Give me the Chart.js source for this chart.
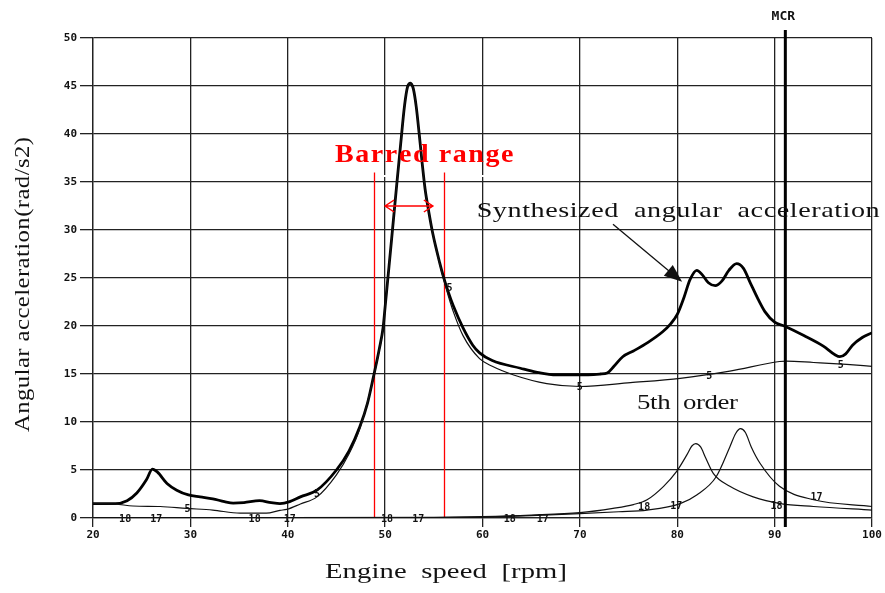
<!DOCTYPE html>
<html>
<head>
<meta charset="utf-8">
<style>
  body { margin: 0; background: #fff; }
  #wrap { width: 885px; height: 593px; }
</style>
</head>
<body>
<div id="wrap"><canvas id="accChart" width="885" height="593"></canvas></div>
<script src="https://cdn.jsdelivr.net/npm/chart.js@4.4.1/dist/chart.umd.min.js"></script>
<script>
// engine speed [rpm] / angular acceleration (rad/s2)
const synthX = [20, 22.3, 23.5, 24.5, 25.5, 26.1, 26.6, 27.6, 28.6, 29.8, 31, 32.3, 33.5, 34.4, 35.5, 37.1, 38.3, 39.2, 40.2, 41.3, 43, 45, 46.3, 47.4, 48.2, 48.8, 49.4, 49.8, 50.0, 50.4, 50.8, 51.2, 51.6, 52.0, 52.3, 52.6, 52.9, 53.2, 53.5, 53.8, 54.1, 54.5, 54.9, 55.6, 56.0, 56.5, 57.0, 58, 59, 59.7, 61, 63.9, 65.5, 67.6, 70, 72.1, 72.8, 73.5, 74.4, 75.5, 77, 78.5, 79.3, 80, 80.7, 81.3, 82, 82.6, 83.2, 83.9, 84.6, 85.3, 86.1, 86.8, 87.5, 88.3, 89, 90, 91, 93, 95, 96.2, 96.7, 97.3, 98, 99, 100];
const synthY = [1.5, 1.5, 1.8, 2.6, 4.0, 5.1, 4.8, 3.6, 2.9, 2.4, 2.2, 2.0, 1.7, 1.55, 1.6, 1.8, 1.6, 1.5, 1.7, 2.2, 2.9, 5.0, 7.0, 9.5, 12, 14.7, 17.6, 19.9, 22, 26.2, 30.5, 34.8, 39, 43, 44.9, 45.3, 44.7, 42.8, 40, 37, 34.3, 31.8, 29.6, 26.6, 25.1, 23.5, 22.1, 19.8, 18.0, 17.2, 16.4, 15.6, 15.2, 14.9, 14.9, 15.0, 15.1, 15.8, 16.8, 17.4, 18.3, 19.4, 20.2, 21.2, 23, 24.8, 25.8, 25.3, 24.5, 24.2, 24.7, 25.8, 26.5, 26.0, 24.5, 22.8, 21.5, 20.4, 20.0, 19.0, 17.9, 17.0, 16.8, 17.1, 18.0, 18.8, 19.3];

const order5X = [20, 22.3, 24.1, 26.9, 29.6, 32.3, 35.1, 37.8, 39.2, 39.9, 41.3, 43, 45, 46.3, 47.4, 48.8, 49.4, 49.8, 50.0, 50.4, 50.8, 51.2, 51.6, 52.0, 52.3, 52.6, 52.9, 53.2, 53.5, 53.8, 54.1, 54.5, 54.9, 55.6, 56.0, 56.5, 57, 58, 59.7, 61, 63.2, 66.6, 70, 75.2, 80.3, 85.4, 90.5, 91.2, 94, 97.4, 100];
const order5Y = [1.5, 1.45, 1.25, 1.2, 1.0, 0.83, 0.5, 0.5, 0.8, 0.9, 1.46, 2.2, 4.5, 6.7, 9.3, 14.6, 17.5, 19.8, 22, 26.2, 30.5, 34.8, 39, 43, 44.9, 45.3, 44.7, 42.8, 40, 37, 34.3, 31.8, 29.6, 26.5, 24.9, 23.1, 21.5, 19.0, 16.6, 15.8, 14.9, 14.0, 13.7, 14.1, 14.55, 15.3, 16.3, 16.35, 16.2, 16.0, 15.8];

const order18X = [20, 40, 55, 60, 65, 70, 73.4, 75.5, 76.9, 78.6, 79.9, 81, 81.5, 81.9, 82.4, 82.9, 83.7, 85.4, 87.8, 90.6, 94, 100];
const order18Y = [0.05, 0.05, 0.08, 0.15, 0.3, 0.55, 1.0, 1.4, 1.9, 3.3, 4.8, 6.6, 7.5, 7.75, 7.4, 6.3, 4.65, 3.3, 2.2, 1.5, 1.2, 0.83];

const order17X = [20, 40, 55, 60, 65, 70, 74, 76.9, 80.3, 82, 84, 85.4, 86.0, 86.5, 87.0, 87.6, 88.5, 90.5, 94, 100];
const order17Y = [0.02, 0.02, 0.05, 0.1, 0.25, 0.45, 0.65, 0.83, 1.5, 2.4, 4.3, 7.4, 8.8, 9.3, 8.9, 7.4, 5.7, 3.3, 1.9, 1.2];

const xTicks = [20, 30, 40, 50, 60, 70, 80, 90, 100];
const yTicks = [0, 5, 10, 15, 20, 25, 30, 35, 40, 45, 50];

// order labels written along the curves: [text, rpm, value]
const orderLabels = [
  ['18', 23.3, 0], ['17', 26.5, 0], ['5', 29.7, 1.0],
  ['18', 36.6, 0], ['17', 40.2, 0], ['5', 43.0, 2.6],
  ['18', 50.2, 0], ['17', 53.4, 0], ['5', 56.6, 24],
  ['18', 62.8, 0], ['17', 66.2, 0], ['5', 70.0, 13.75],
  ['18', 76.6, 1.25], ['17', 79.9, 1.35], ['5', 83.3, 14.9],
  ['18', 90.2, 1.35], ['17', 94.3, 2.2], ['5', 96.8, 16.0]
];

const barredFrom = 48.9, barredTo = 56.0;
const mcrSpeed = 91.1;

function pts(xs, ys) {
  return xs.map((x, i) => ({ x: x, y: ys[i] }));
}

// draw text stretched by sx, with the leftover width spread between chars
function fitText(ctx, text, x, y, width, sx) {
  ctx.save();
  ctx.translate(x, y);
  ctx.scale(sx, 1);
  const natural = ctx.measureText(text).width;
  const gap = text.length > 1 ? (width / sx - natural) / (text.length - 1) : 0;
  let cx = 0;
  for (const ch of text) {
    ctx.fillText(ch, cx, 0);
    cx += ctx.measureText(ch).width + gap;
  }
  ctx.restore();
}

const serif = '"Liberation Serif", "DejaVu Serif", serif';
const mono = '"DejaVu Sans Mono", "Liberation Mono", monospace';

const decorations = {
  id: 'decorations',
  beforeDatasetsDraw(chart) {
    const ctx = chart.ctx, xs = chart.scales.x, ys = chart.scales.y;
    ctx.save();
    // white edge of the text box over the grid
    ctx.strokeStyle = '#fff';
    ctx.lineWidth = 2;
    ctx.beginPath();
    ctx.moveTo(xs.getPixelForValue(43.1), 176);
    ctx.lineTo(xs.getPixelForValue(64.9), 176);
    ctx.stroke();
    // barred range lines
    ctx.strokeStyle = '#ff0000';
    ctx.lineWidth = 1.3;
    [barredFrom, barredTo].forEach(v => {
      const px = Math.round(xs.getPixelForValue(v)) + 0.5;
      ctx.beginPath();
      ctx.moveTo(px, ys.getPixelForValue(36.0));
      ctx.lineTo(px, ys.getPixelForValue(0));
      ctx.stroke();
    });
    ctx.restore();
  },
  afterDatasetsDraw(chart) {
    const ctx = chart.ctx, xs = chart.scales.x, ys = chart.scales.y;
    const area = chart.chartArea;
    ctx.save();

    // red double arrow
    const ay = ys.getPixelForValue(32.5);
    const a1 = xs.getPixelForValue(50.0), a2 = xs.getPixelForValue(54.9);
    ctx.strokeStyle = '#ff0000';
    ctx.lineWidth = 1.5;
    ctx.beginPath();
    ctx.moveTo(a1, ay); ctx.lineTo(a2, ay);
    ctx.moveTo(a1 + 9, ay - 6); ctx.lineTo(a1, ay); ctx.lineTo(a1 + 9, ay + 6);
    ctx.moveTo(a2 - 9, ay - 6); ctx.lineTo(a2, ay); ctx.lineTo(a2 - 9, ay + 6);
    ctx.stroke();

    // red title
    ctx.fillStyle = '#ff0000';
    ctx.font = 'bold 25px ' + serif;
    ctx.textBaseline = 'alphabetic';
    ctx.textAlign = 'left';
    fitText(ctx, 'Barred range', xs.getPixelForValue(44.85), ys.getPixelForValue(37.1), 178, 1.12);

    // MCR line
    const mx = xs.getPixelForValue(mcrSpeed);
    ctx.strokeStyle = '#000';
    ctx.lineWidth = 3;
    ctx.beginPath();
    ctx.moveTo(mx, area.top - 8);
    ctx.lineTo(mx, area.bottom + 9);
    ctx.stroke();
    ctx.fillStyle = '#111';
    ctx.font = 'bold 13px ' + mono;
    ctx.textAlign = 'center';
    ctx.textBaseline = 'middle';
    ctx.fillText('MCR', mx - 2, 17);

    // order labels on the curves
    ctx.font = 'bold 10px ' + mono;
    ctx.fillStyle = '#111';
    orderLabels.forEach(([t, x, y]) => {
      ctx.fillText(t, xs.getPixelForValue(x), ys.getPixelForValue(y) + 1);
    });

    // annotations
    ctx.fillStyle = '#111';
    ctx.textAlign = 'left';
    ctx.textBaseline = 'alphabetic';
    ctx.font = '22px ' + serif;
    fitText(ctx, 'Synthesized  angular  acceleration', xs.getPixelForValue(59.4), ys.getPixelForValue(31.35), 403, 1.28);
    fitText(ctx, '5th  order', xs.getPixelForValue(75.87), ys.getPixelForValue(11.35), 101, 1.22);

    // pointer arrow
    const p0x = xs.getPixelForValue(73.4), p0y = ys.getPixelForValue(30.6);
    const p1x = xs.getPixelForValue(80.5), p1y = ys.getPixelForValue(24.6);
    const ang = Math.atan2(p1y - p0y, p1x - p0x);
    ctx.strokeStyle = '#111';
    ctx.lineWidth = 1.3;
    ctx.beginPath();
    ctx.moveTo(p0x, p0y);
    ctx.lineTo(p1x - 12 * Math.cos(ang), p1y - 12 * Math.sin(ang));
    ctx.stroke();
    ctx.beginPath();
    ctx.moveTo(p1x, p1y);
    ctx.lineTo(p1x - 18 * Math.cos(ang) + 7 * Math.sin(ang), p1y - 18 * Math.sin(ang) - 7 * Math.cos(ang));
    ctx.lineTo(p1x - 18 * Math.cos(ang) - 7 * Math.sin(ang), p1y - 18 * Math.sin(ang) + 7 * Math.cos(ang));
    ctx.closePath();
    ctx.fill();

    // axis titles
    ctx.font = '22px ' + serif;
    fitText(ctx, 'Engine  speed  [rpm]', 325, 578, 242, 1.3);
    ctx.translate(29, 432);
    ctx.rotate(-Math.PI / 2);
    ctx.font = '22px ' + serif;
    fitText(ctx, 'Angular acceleration(rad/s2)', 0, 0, 295, 1.12);
    ctx.restore();
  }
};

const thin = { borderColor: '#111', borderWidth: 1.2, pointRadius: 0, cubicInterpolationMode: 'monotone', fill: false };

new Chart(document.getElementById('accChart'), {
  type: 'line',
  data: {
    datasets: [
      Object.assign({ label: '18th', data: pts(order18X, order18Y) }, thin),
      Object.assign({ label: '17th', data: pts(order17X, order17Y) }, thin),
      Object.assign({ label: '5th order', data: pts(order5X, order5Y) }, thin),
      { label: 'Synthesized', data: pts(synthX, synthY), borderColor: '#000', borderWidth: 2.8,
        pointRadius: 0, cubicInterpolationMode: 'monotone', fill: false }
    ]
  },
  options: {
    responsive: false,
    animation: false,
    devicePixelRatio: 1,
    layout: { padding: { top: 38, right: 13, left: 0, bottom: 0 } },
    plugins: { legend: { display: false }, tooltip: { enabled: false } },
    scales: {
      x: {
        type: 'linear', min: 20, max: 100,
        afterFit: s => { s.height = 75; },
        afterBuildTicks: s => { s.ticks = xTicks.map(v => ({ value: v })); },
        grid: { color: '#222', lineWidth: 1.3, tickLength: 9 },
        border: { color: '#222', width: 1.3 },
        ticks: { color: '#111', padding: 2, maxRotation: 0, font: { family: mono, size: 11, weight: 'bold' } }
      },
      y: {
        min: 0, max: 50,
        afterFit: s => { s.width = 93; },
        afterBuildTicks: s => { s.ticks = yTicks.map(v => ({ value: v })); },
        grid: { color: '#222', lineWidth: 1.3, tickLength: 13 },
        border: { color: '#222', width: 1.3 },
        ticks: { color: '#111', padding: 3, font: { family: mono, size: 11, weight: 'bold' } }
      }
    }
  },
  plugins: [decorations]
});
</script>
</body>
</html>
